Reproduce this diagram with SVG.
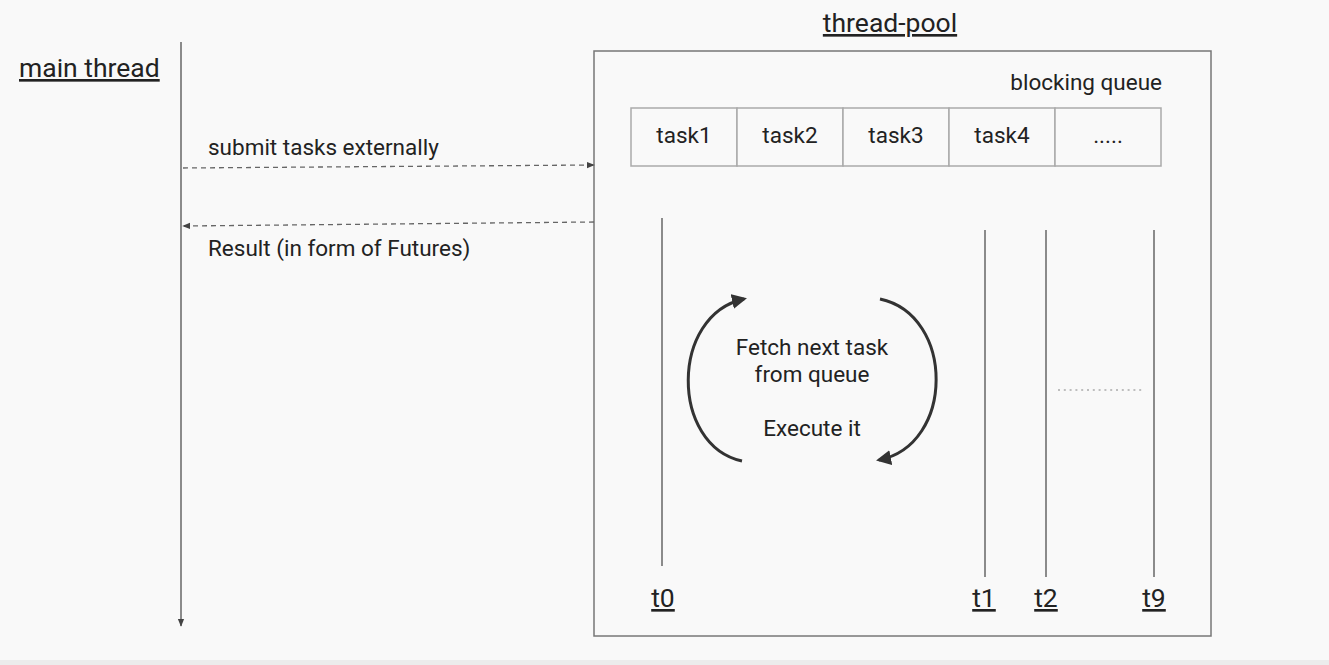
<svg xmlns="http://www.w3.org/2000/svg" width="1329" height="665" viewBox="0 0 1329 665">
<defs>
<style>
text{font-family:Roboto,"Liberation Sans",sans-serif;fill:#222}
.t{font-size:22.5px}
.h{font-size:26.5px;text-decoration:underline}
.ln{stroke:#666;stroke-width:1.5;fill:none}
.dash{stroke:#666;stroke-width:1.3;stroke-dasharray:5 4;fill:none}
.arc{stroke:#333;stroke-width:3;fill:none}
.cell{fill:#f9f9f9;stroke:#aaa;stroke-width:1.5}
</style>
<marker id="ah" viewBox="0 0 10 10" refX="9" refY="5" markerWidth="8" markerHeight="8" markerUnits="userSpaceOnUse" orient="auto"><path d="M0,1 L10,5 L0,9 z" fill="#444"/></marker>
<marker id="ahb" viewBox="0 0 10 10" refX="8" refY="5" markerWidth="5" markerHeight="5" orient="auto"><path d="M0,0 L10,5 L0,10 z" fill="#333"/></marker>
</defs>
<rect width="1329" height="665" fill="#f9f9f9"/>
<rect y="660" width="1329" height="5" fill="#ececec"/>
<g id="main-thread">
<text class="h" x="19" y="77">main thread</text>
<line class="ln" x1="181" y1="42" x2="181" y2="626" marker-end="url(#ah)"/>
</g>
<g id="thread-pool">
<text class="h" x="890" y="32" text-anchor="middle">thread-pool</text>
<rect x="594" y="51" width="617" height="585" fill="none" stroke="#777" stroke-width="1.5"/>
</g>
<g id="blocking-queue">
<text class="t" x="1162" y="90" text-anchor="end">blocking queue</text>
<rect class="cell" x="631" y="108" width="106" height="58"/>
<rect class="cell" x="737" y="108" width="106" height="58"/>
<rect class="cell" x="843" y="108" width="106" height="58"/>
<rect class="cell" x="949" y="108" width="106" height="58"/>
<rect class="cell" x="1055" y="108" width="106" height="58"/>
<text class="t" x="684" y="143" text-anchor="middle">task1</text>
<text class="t" x="790" y="143" text-anchor="middle">task2</text>
<text class="t" x="896" y="143" text-anchor="middle">task3</text>
<text class="t" x="1002" y="143" text-anchor="middle">task4</text>
<text class="t" x="1108" y="143" text-anchor="middle">.....</text>
</g>
<g id="threads">
<line class="ln" x1="662" y1="218" x2="662" y2="566"/>
<line class="ln" x1="985" y1="230" x2="985" y2="577"/>
<line class="ln" x1="1046" y1="230" x2="1046" y2="577"/>
<line class="ln" x1="1154" y1="230" x2="1154" y2="577"/>
<text class="h" x="663" y="607" text-anchor="middle">t0</text>
<text class="h" x="984" y="607" text-anchor="middle">t1</text>
<text class="h" x="1046" y="607" text-anchor="middle">t2</text>
<text class="h" x="1154" y="607" text-anchor="middle">t9</text>
<line x1="1058" y1="390" x2="1145" y2="390" stroke="#aaa" stroke-width="1.5" stroke-dasharray="2 3.8"/>
</g>
<g id="worker-loop">
<path class="arc" d="M742,461 C670,445 670,315 744,299" marker-end="url(#ahb)"/>
<path class="arc" d="M880,299 C955,315 955,445 879,460" marker-end="url(#ahb)"/>
<text class="t" x="812" y="355" text-anchor="middle">Fetch next task</text>
<text class="t" x="812" y="382" text-anchor="middle">from queue</text>
<text class="t" x="812" y="436" text-anchor="middle">Execute it</text>
</g>
<g id="connectors">
<line class="dash" x1="183" y1="168" x2="594" y2="165" marker-end="url(#ah)"/>
<line class="dash" x1="594" y1="222" x2="183" y2="226" marker-end="url(#ah)"/>
<text class="t" x="208" y="155">submit tasks externally</text>
<text class="t" x="208" y="256">Result (in form of Futures)</text>
</g>
</svg>
